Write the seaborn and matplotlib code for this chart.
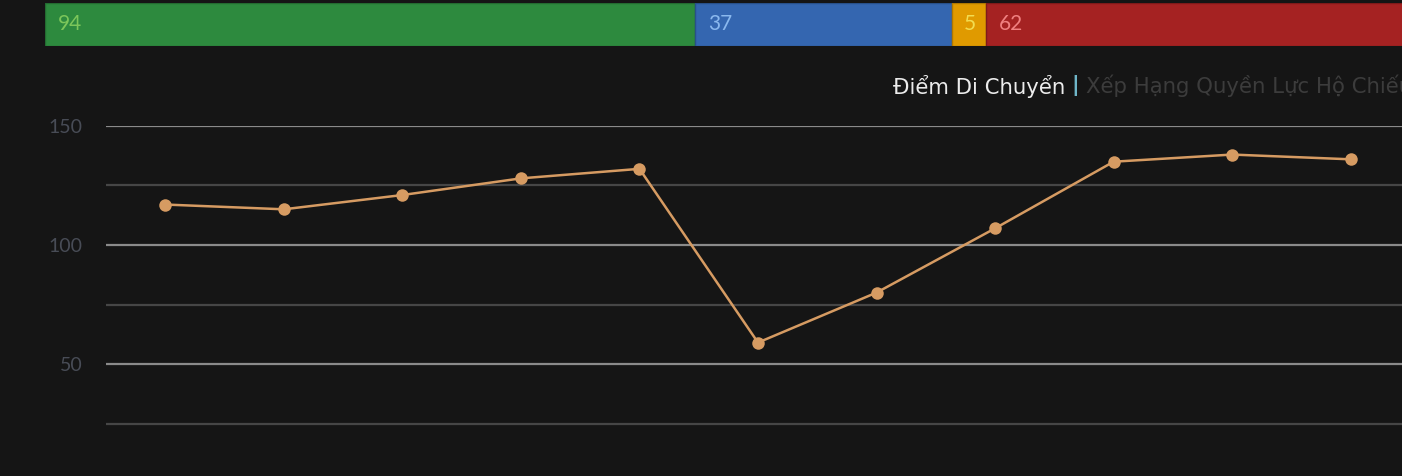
import matplotlib
matplotlib.use("Agg")
import matplotlib.pyplot as plt
import seaborn as sns
import pandas as pd
import numpy as np

# ---- data ----
bar_labels = ["94", "37", "5", "62"]
bar_values = [94, 37, 5, 62]
bar_colors = ["#2d8a3e", "#3466b0", "#e09a00", "#a52222"]
bar_edge = ["#236b30", "#28508a", "#b07800", "#7f1a1a"]
bar_text_colors = ["#7cc65a", "#8ab8ee", "#f2dc50", "#f08080"]

points = list(range(1, 12))
scores = [117, 115, 121, 128, 132, 59, 80, 107, 135, 138, 136]
y_ticks = [0, 50, 100, 150]
y_minor = [25, 75, 125]

title_main = "Điểm Di Chuyển"
title_sep = "|"
title_rest = "Xếp Hạng Quyền Lực Hộ Chiếu"

BG = "#151515"

sns.set_theme(style="dark")
plt.rcParams["font.family"] = ["DejaVu Sans"]

W, H = 1402, 476
fig = plt.figure(figsize=(W / 100, H / 100), dpi=100, facecolor=BG)

def px_axes(x0, y0, x1, y1):
    return fig.add_axes([x0 / W, (H - y1) / H, (x1 - x0) / W, (y1 - y0) / H])

# ---- top stacked bar ----
total = sum(bar_values)
axb = px_axes(45, 3, 45 + total * 6.92, 46)
axb.set_facecolor(BG)
left = 0
for v, c, e, lab, tc in zip(bar_values, bar_colors, bar_edge, bar_labels, bar_text_colors):
    axb.barh([0], [v], left=[left], height=1.0, color=c, edgecolor=e, linewidth=1.0)
    axb.text(left + 1.8, 0.0, lab, color=tc, fontsize=15, va="center", ha="left",
             fontfamily="Lato", zorder=5)
    left += v
axb.set_xlim(0, total)
axb.set_ylim(-0.5, 0.5)
axb.axis("off")

# ---- line chart ----
ax = px_axes(106, 126, 1410, 483)
ax.set_facecolor(BG)
df = pd.DataFrame({"idx": points, "score": scores})
ax.set_ylim(0, 150)
ax.set_xlim(0.5, 11.5)
for yv in y_minor:
    ax.axhline(yv, color="#464646", lw=1.6, zorder=1)
for yv in y_ticks:
    ax.axhline(yv, color="#8a8a8a", lw=1.6, zorder=1)
sns.lineplot(data=df, x="idx", y="score", ax=ax, color="#d69b62", lw=1.8,
             marker="o", markersize=9, markeredgewidth=0, zorder=3)
ax.set_yticks(y_ticks)
ax.set_yticklabels([str(t) for t in y_ticks], color="#484c56", fontsize=14,
                   fontfamily="Lato")
ax.tick_params(axis="y", length=0, pad=17)
ax.set_xticks([])
ax.set_xlabel("")
ax.set_ylabel("")
ax.grid(False)
for s in ax.spines.values():
    s.set_visible(False)

# ---- title / legend text ----
ty = (H - 86) / H
t1 = fig.text(893 / W, ty, title_main, color="#ececec", fontsize=15.3,
              fontfamily="DejaVu Sans", va="center", ha="left")
fig.canvas.draw()
bb = t1.get_window_extent()
t2 = fig.text((bb.x1 + 6) / W, ty, title_sep, color="#6fb6c9", fontsize=15,
              fontweight="bold", va="center", ha="left")
fig.canvas.draw()
bb2 = t2.get_window_extent()
fig.text((bb2.x1 + 7) / W, ty, title_rest, color="#3c3c3c", fontsize=15.3,
         fontfamily="DejaVu Sans", va="center", ha="left")

fig.savefig("out.png", dpi=100, facecolor=BG)
